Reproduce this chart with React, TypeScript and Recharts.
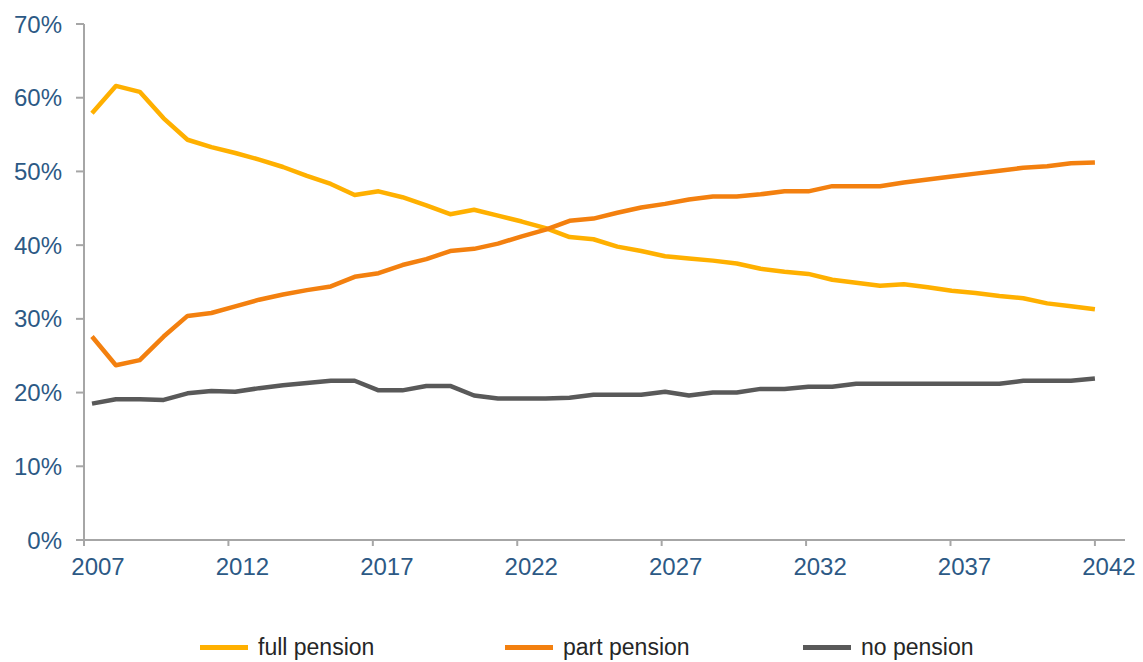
import React from "react";
import { LineChart, Line, XAxis, YAxis, Legend } from "recharts";

// shares of people by pension status, one value per step along the line
const fullPension = [
  57.9, 61.6, 60.8, 57.2, 54.3, 53.3, 52.5, 51.6, 50.6, 49.4, 48.3, 46.8, 47.3, 46.5, 45.4,
  44.2, 44.8, 44.0, 43.2, 42.3, 41.1, 40.8, 39.8, 39.2, 38.5, 38.2, 37.9, 37.5, 36.8, 36.4,
  36.1, 35.3, 34.9, 34.5, 34.7, 34.3, 33.8, 33.5, 33.1, 32.8, 32.1, 31.7, 31.3,
];
const partPension = [
  27.6, 23.7, 24.4, 27.6, 30.4, 30.8, 31.7, 32.6, 33.3, 33.9, 34.4, 35.7, 36.2, 37.3, 38.1,
  39.2, 39.5, 40.2, 41.2, 42.1, 43.3, 43.6, 44.4, 45.1, 45.6, 46.2, 46.6, 46.6, 46.9, 47.3,
  47.3, 48.0, 48.0, 48.0, 48.5, 48.9, 49.3, 49.7, 50.1, 50.5, 50.7, 51.1, 51.2,
];
const noPension = [
  18.5, 19.1, 19.1, 19.0, 19.9, 20.2, 20.1, 20.6, 21.0, 21.3, 21.6, 21.6, 20.3, 20.3, 20.9,
  20.9, 19.6, 19.2, 19.2, 19.2, 19.3, 19.7, 19.7, 19.7, 20.1, 19.6, 20.0, 20.0, 20.5, 20.5,
  20.8, 20.8, 21.2, 21.2, 21.2, 21.2, 21.2, 21.2, 21.2, 21.6, 21.6, 21.6, 21.9,
];
const tickLabels = ["2007", "2012", "2017", "2022", "2027", "2032", "2037", "2042"];
const yTicks = [0, 10, 20, 30, 40, 50, 60, 70];

const series = [
  { key: "full", name: "full pension", color: "#FFB000" },
  { key: "part", name: "part pension", color: "#F3800F" },
  { key: "none", name: "no pension", color: "#595959" },
];

const data = fullPension.map((v, i) => ({
  t: i,
  full: v,
  part: partPension[i],
  none: noPension[i],
}));

// axis runs a little past both ends of the lines, like the original
const xStart = -0.335;
const xEnd = 43.26;
const lastPoint = fullPension.length - 1;
const xTicks = tickLabels.map(
  (_, k) => xStart + (k * (lastPoint - xStart)) / (tickLabels.length - 1)
);

const labelColor = "#2c5985";
const axisColor = "#a6a6a6";
const font = "'Liberation Sans', Arial, sans-serif";

const XTick = (props: any) => {
  const { x, y, index } = props;
  return (
    <text x={x + 14} y={y} dy="0.71em" textAnchor="middle" fill={labelColor} fontSize={24} fontFamily={font}>
      {tickLabels[index]}
    </text>
  );
};

const legendLeft = [200, 505, 803];

const LegendRow = () => (
  <div style={{ position: "relative", width: 1143, height: 40, fontFamily: font }}>
    {series.map((s, i) => (
      <div
        key={s.key}
        style={{ position: "absolute", left: legendLeft[i], top: 12, display: "flex", alignItems: "center", height: 26 }}
      >
        <span style={{ display: "inline-block", width: 48, height: 5, background: s.color, marginRight: 10 }} />
        <span style={{ fontSize: 23, color: "#262626" }}>{s.name}</span>
      </div>
    ))}
  </div>
);

export default function App() {
  return (
    <div style={{ position: "absolute", left: 0, top: 0, width: 1143, height: 662, background: "#fff" }}>
      <LineChart width={1143} height={662} data={data} margin={{ top: 24, right: 18, bottom: 0, left: 0 }}>
        <XAxis
          dataKey="t"
          type="number"
          domain={[xStart, xEnd]}
          ticks={xTicks}
          interval={0}
          height={82}
          tickSize={6}
          tickMargin={12}
          tick={<XTick />}
          axisLine={{ stroke: axisColor, strokeWidth: 2 }}
          tickLine={{ stroke: axisColor, strokeWidth: 2 }}
        />
        <YAxis
          type="number"
          domain={[0, 70]}
          ticks={yTicks}
          width={84}
          tickSize={8}
          tickMargin={14}
          tickFormatter={(v: number) => `${v}%`}
          tick={{ fill: labelColor, fontSize: 24, fontFamily: font }}
          axisLine={{ stroke: axisColor, strokeWidth: 2 }}
          tickLine={{ stroke: axisColor, strokeWidth: 2 }}
        />
        <Legend verticalAlign="bottom" wrapperStyle={{ left: 0, bottom: 0 }} content={<LegendRow />} />
        {series.map((s) => (
          <Line
            key={s.key}
            dataKey={s.key}
            name={s.name}
            stroke={s.color}
            strokeWidth={4.5}
            strokeLinejoin="round"
            dot={false}
            activeDot={false}
            type="linear"
            isAnimationActive={false}
          />
        ))}
      </LineChart>
    </div>
  );
}
